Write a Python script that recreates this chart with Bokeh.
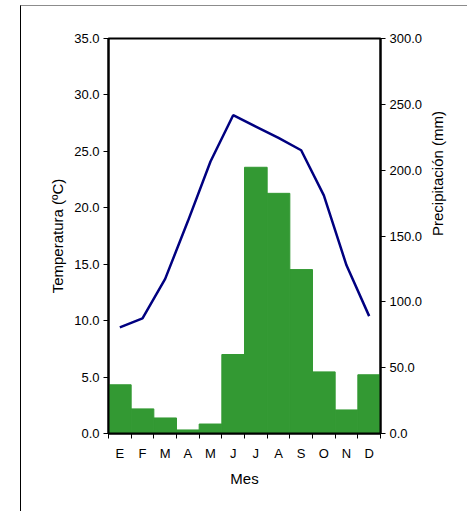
import math
from bokeh.plotting import figure
from bokeh.models import (Range1d, LinearAxis, FixedTicker, NumeralTickFormatter,
                          ColumnDataSource)
from bokeh.embed import file_html
from bokeh.resources import INLINE

months = ["E", "F", "M", "A", "M", "J", "J", "A", "S", "O", "N", "D"]
temperatura = [9.4, 10.2, 13.7, 18.8, 24.1, 28.2, 27.2, 26.2, 25.1, 21.1, 14.9, 10.4]
precipitacion = [37.0, 18.7, 11.8, 2.7, 7.2, 60.0, 202.2, 182.4, 124.5, 46.8, 17.9, 44.6]

FONT = "Liberation Sans"

x_centers = [i + 0.5 for i in range(len(months))]
x_bounds = [float(i) for i in range(len(months) + 1)]

p = figure(width=447, height=506, output_backend="svg", toolbar_location=None,
           x_range=Range1d(0, 12), y_range=Range1d(0, 35),
           min_border_left=87, min_border_right=88, min_border_top=32, min_border_bottom=79)
# outer chart frame (left and top edges visible in the reference)
p.styles = {"margin-left": "20px", "margin-top": "5px",
            "border-left": "1px solid #000000", "border-top": "1px solid #8c8c8c"}
p.grid.visible = False
p.outline_line_color = "black"
p.outline_line_width = 2

p.extra_y_ranges = {"prec": Range1d(0, 300)}

src = ColumnDataSource(dict(x=x_centers, prec=precipitacion, temp=temperatura))
p.vbar(x="x", top="prec", bottom=0, width=1.0, source=src, y_range_name="prec",
       fill_color="#339933", line_color="#339933", line_width=1)
p.line(x="x", y="temp", source=src, line_color="#000080", line_width=2.5)

# x axis
xa = p.xaxis[0]
xa.ticker = FixedTicker(ticks=x_centers, minor_ticks=x_bounds)
xa.major_label_overrides = {c: m for c, m in zip(x_centers, months)}
xa.major_tick_line_color = None
xa.minor_tick_out = 5
xa.minor_tick_in = 0
xa.minor_tick_line_color = "black"
xa.minor_tick_line_width = 1
xa.axis_line_width = 2
xa.axis_label = "Mes"
xa.axis_label_standoff = 6
xa.major_label_standoff = 6

# left axis
ya = p.yaxis[0]
ya.ticker = FixedTicker(ticks=[0, 5, 10, 15, 20, 25, 30, 35])
ya.formatter = NumeralTickFormatter(format="0.0")
ya.axis_label = "Temperatura (ºC)"
ya.minor_tick_line_color = None
ya.major_tick_out = 5
ya.major_tick_in = 0
ya.axis_line_width = 2
ya.axis_label_standoff = 5
ya.major_label_standoff = 4

# right axis
ra = LinearAxis(y_range_name="prec", axis_label="Precipitación (mm)")
ra.ticker = FixedTicker(ticks=[0, 50, 100, 150, 200, 250, 300])
ra.formatter = NumeralTickFormatter(format="0.0")
ra.minor_tick_line_color = None
ra.major_tick_out = 5
ra.major_tick_in = 0
ra.axis_line_width = 2
ra.axis_label_standoff = 12
ra.major_label_standoff = 4
ra.axis_label_orientation = math.pi / 2
p.add_layout(ra, "right")

for ax in (xa, ya, ra):
    ax.axis_label_text_font = FONT
    ax.axis_label_text_font_size = "15px"
    ax.axis_label_text_font_style = "normal"
    ax.axis_label_text_color = "black"
    ax.major_label_text_font = FONT
    ax.major_label_text_font_size = "13px"
    ax.major_label_text_color = "black"
    ax.axis_line_color = "black"

open("out.html", "w").write(file_html(p, INLINE))
